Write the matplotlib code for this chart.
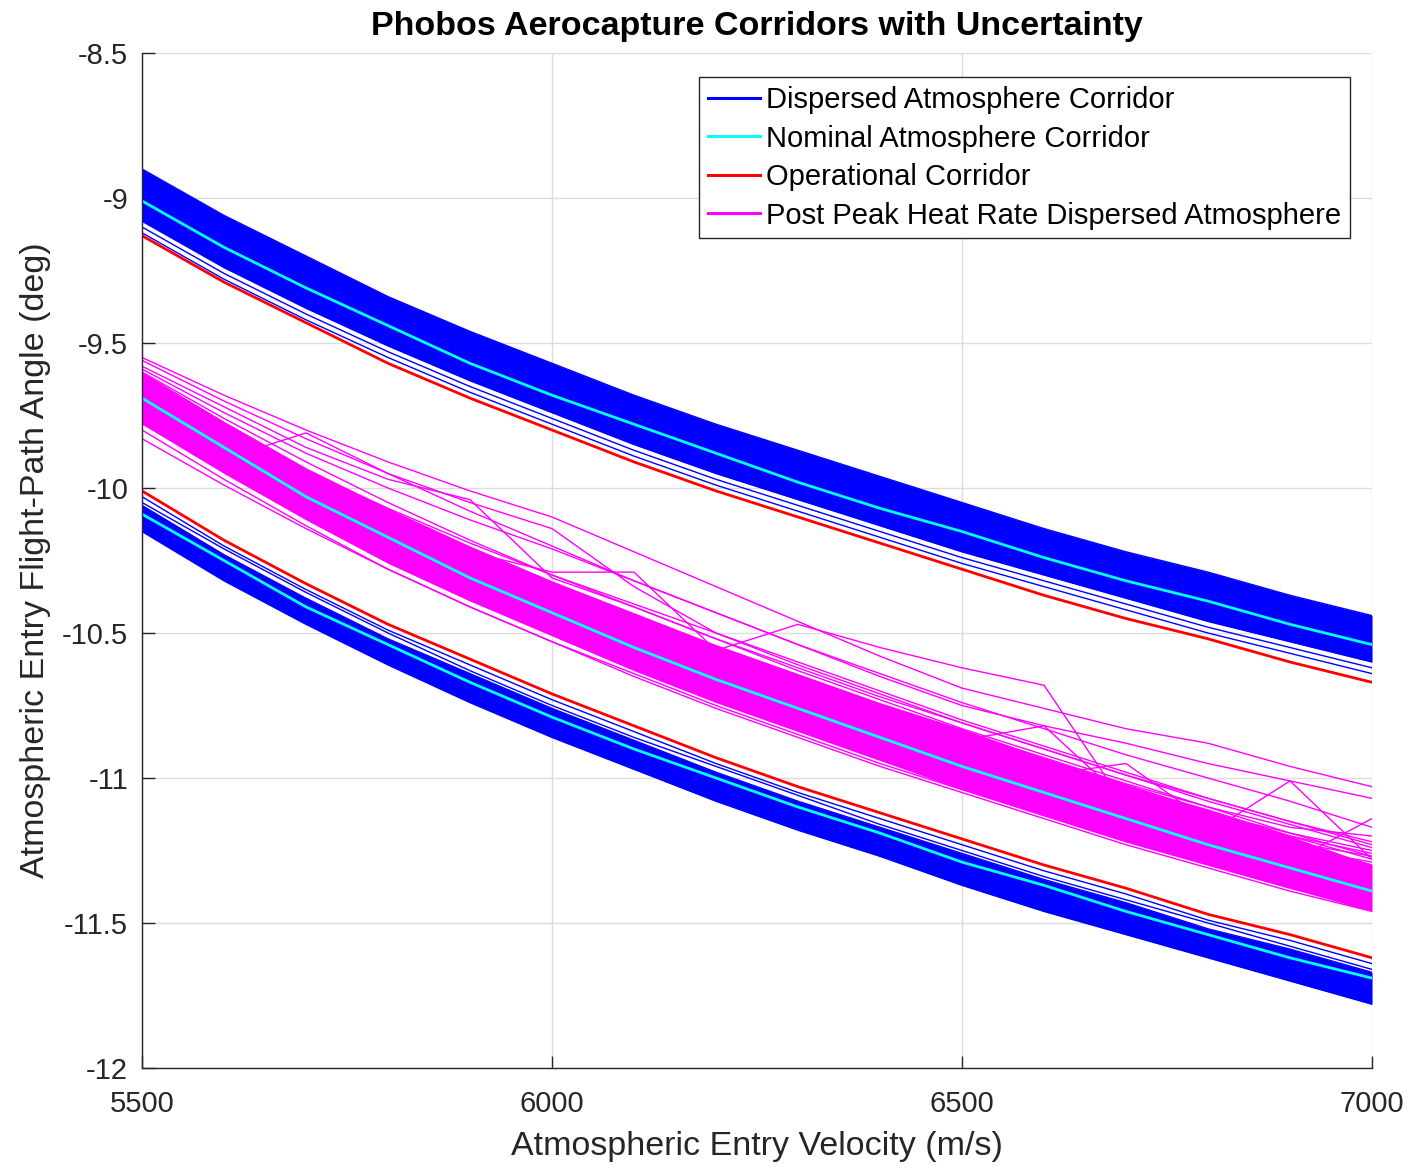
import matplotlib.pyplot as plt
from matplotlib.lines import Line2D
from matplotlib.ticker import FuncFormatter

plt.rcParams['font.family'] = ['Liberation Sans', 'DejaVu Sans']
plt.rcParams['axes.unicode_minus'] = False

# entry velocity grid (m/s)
velocity = [5500, 5600, 5700, 5800, 5900, 6000, 6100, 6200,
            6300, 6400, 6500, 6600, 6700, 6800, 6900, 7000]

# -----------------------------
# shallow (overshoot) corridor boundary
# -----------------------------
upper_disp_top = [-8.90, -9.06, -9.20, -9.34, -9.46, -9.57, -9.68, -9.78,
                  -9.87, -9.96, -10.05, -10.14, -10.22, -10.29, -10.37, -10.44]
upper_disp_bottom = [-9.08, -9.24, -9.38, -9.51, -9.63, -9.74, -9.85, -9.95,
                     -10.04, -10.13, -10.22, -10.30, -10.38, -10.46, -10.53, -10.60]
upper_disp_edge1 = [-9.10, -9.26, -9.40, -9.53, -9.65, -9.76, -9.87, -9.97,
                    -10.06, -10.15, -10.24, -10.32, -10.40, -10.48, -10.55, -10.62]
upper_disp_edge2 = [-9.12, -9.28, -9.42, -9.55, -9.67, -9.78, -9.89, -9.99,
                    -10.08, -10.17, -10.26, -10.34, -10.42, -10.50, -10.57, -10.64]
upper_nominal = [-9.01, -9.17, -9.31, -9.44, -9.57, -9.68, -9.78, -9.88,
                 -9.98, -10.07, -10.15, -10.24, -10.32, -10.39, -10.47, -10.54]
upper_operational = [-9.13, -9.29, -9.43, -9.57, -9.69, -9.80, -9.91, -10.01,
                     -10.10, -10.19, -10.28, -10.37, -10.45, -10.52, -10.60, -10.67]

# -----------------------------
# steep (undershoot) corridor boundary
# -----------------------------
lower_operational = [-10.01, -10.18, -10.33, -10.47, -10.59, -10.71, -10.82, -10.93,
                     -11.03, -11.12, -11.21, -11.30, -11.38, -11.47, -11.54, -11.62]
lower_disp_edge1 = [-10.03, -10.20, -10.35, -10.49, -10.61, -10.73, -10.84, -10.95,
                    -11.05, -11.14, -11.23, -11.32, -11.40, -11.49, -11.56, -11.64]
lower_disp_edge2 = [-10.05, -10.21, -10.36, -10.50, -10.63, -10.75, -10.86, -10.96,
                    -11.06, -11.16, -11.25, -11.34, -11.42, -11.50, -11.58, -11.66]
lower_disp_top = [-10.06, -10.23, -10.38, -10.52, -10.64, -10.76, -10.87, -10.98,
                  -11.08, -11.17, -11.26, -11.35, -11.43, -11.52, -11.59, -11.67]
lower_disp_bottom = [-10.15, -10.32, -10.47, -10.61, -10.74, -10.86, -10.97, -11.08,
                     -11.18, -11.27, -11.37, -11.46, -11.54, -11.62, -11.70, -11.78]
lower_nominal = [-10.09, -10.25, -10.41, -10.54, -10.67, -10.79, -10.90, -11.00,
                 -11.10, -11.19, -11.29, -11.37, -11.46, -11.54, -11.62, -11.69]

# -----------------------------
# post peak heat rate boundary
# -----------------------------
post_peak_top = [-9.60, -9.77, -9.93, -10.07, -10.20, -10.32, -10.43, -10.54,
                 -10.64, -10.74, -10.83, -10.93, -11.02, -11.11, -11.20, -11.30]
post_peak_bottom = [-9.78, -9.95, -10.11, -10.26, -10.39, -10.51, -10.63, -10.74,
                    -10.84, -10.94, -11.04, -11.13, -11.22, -11.30, -11.38, -11.46]
post_peak_nominal = [-9.69, -9.86, -10.03, -10.17, -10.31, -10.43, -10.55, -10.66,
                     -10.76, -10.86, -10.96, -11.05, -11.14, -11.23, -11.31, -11.39]

post_peak_runs = [
    [-9.55, -9.68, -9.80, -9.91, -10.01, -10.10, -10.22, -10.34,
     -10.46, -10.58, -10.69, -10.76, -10.83, -10.88, -10.96, -11.03],
    [-9.58, -9.72, -9.86, -9.97, -10.04, -10.31, -10.41, -10.52,
     -10.63, -10.73, -10.83, -10.92, -11.01, -11.10, -11.19, -11.27],
    [-9.62, -9.80, -9.96, -10.10, -10.22, -10.29, -10.29, -10.56,
     -10.66, -10.76, -10.86, -10.95, -11.04, -11.13, -11.22, -11.30],
    [-9.64, -9.82, -9.98, -10.12, -10.25, -10.37, -10.48, -10.56,
     -10.47, -10.55, -10.62, -10.68, -11.10, -11.18, -11.24, -11.29],
    [-9.66, -9.84, -10.00, -10.14, -10.27, -10.39, -10.50, -10.61,
     -10.70, -10.78, -10.87, -10.82, -11.08, -11.16, -11.23, -11.30],
    [-9.63, -9.81, -9.97, -10.11, -10.24, -10.36, -10.47, -10.58,
     -10.68, -10.78, -10.88, -10.98, -11.09, -11.19, -11.01, -11.28],
    [-9.70, -9.87, -10.03, -10.18, -10.31, -10.44, -10.56, -10.67,
     -10.77, -10.87, -10.96, -11.05, -11.13, -11.21, -11.29, -11.14],
    [-9.75, -9.90, -9.81, -9.95, -10.08, -10.20, -10.32, -10.43,
     -10.54, -10.64, -10.74, -10.83, -10.92, -11.00, -11.08, -11.17],
    [-9.59, -9.74, -9.88, -10.00, -10.11, -10.21, -10.32, -10.43,
     -10.54, -10.65, -10.75, -10.82, -10.88, -10.95, -11.01, -11.07],
    [-9.56, -9.70, -9.83, -9.95, -10.05, -10.14, -10.34, -10.50,
     -10.61, -10.71, -10.81, -10.90, -10.99, -11.07, -11.15, -11.22],
    [-9.80, -9.97, -10.13, -10.28, -10.41, -10.53, -10.65, -10.76,
     -10.86, -10.96, -11.05, -11.14, -11.23, -11.31, -11.39, -11.46],
    [-9.83, -9.99, -10.14, -10.28, -10.41, -10.53, -10.64, -10.75,
     -10.85, -10.95, -11.04, -11.13, -11.22, -11.30, -11.38, -11.45],
    [-9.61, -9.78, -9.94, -10.08, -10.21, -10.33, -10.44, -10.55,
     -10.65, -10.75, -10.84, -10.93, -11.02, -11.10, -11.17, -11.20],
    [-9.62, -9.79, -9.95, -10.09, -10.22, -10.34, -10.45, -10.56,
     -10.66, -10.76, -10.86, -10.95, -11.04, -11.12, -11.19, -11.25],
    [-9.65, -9.83, -9.99, -10.13, -10.26, -10.38, -10.49, -10.60,
     -10.70, -10.80, -10.90, -10.99, -10.95, -11.15, -11.22, -11.27],
    [-9.60, -9.76, -9.91, -10.05, -10.18, -10.30, -10.41, -10.52,
     -10.62, -10.72, -10.81, -10.90, -10.99, -11.08, -11.16, -11.24],
    [-9.63, -9.79, -9.94, -10.07, -10.19, -10.30, -10.40, -10.50,
     -10.60, -10.70, -10.80, -10.89, -10.98, -11.07, -11.15, -11.23],
    [-9.68, -9.85, -10.00, -10.13, -10.25, -10.36, -10.47, -10.57,
     -10.67, -10.76, -10.85, -10.94, -11.03, -11.11, -11.20, -11.28],
    [-9.72, -9.88, -10.03, -10.16, -10.28, -10.39, -10.50, -10.59,
     -10.68, -10.78, -10.87, -10.96, -11.04, -11.12, -11.20, -11.26],
    [-9.74, -9.91, -10.06, -10.20, -10.33, -10.45, -10.56, -10.66,
     -10.75, -10.84, -10.93, -11.02, -11.11, -11.19, -11.27, -11.35],
]

legend_labels = ['Dispersed Atmosphere Corridor', 'Nominal Atmosphere Corridor',
                 'Operational Corridor', 'Post Peak Heat Rate Dispersed Atmosphere']

BLUE = (0, 0, 1)
CYAN = (0, 1, 1)
RED = (1, 0, 0)
MAGENTA = (1, 0, 1)

fig = plt.figure(figsize=(14.12, 11.68), dpi=100)
ax = fig.add_axes([0.1006, 0.0856, 0.8711, 0.869])

# dispersed atmosphere bands
ax.fill_between(velocity, upper_disp_top, upper_disp_bottom, color=BLUE, lw=0)
ax.fill_between(velocity, lower_disp_top, lower_disp_bottom, color=BLUE, lw=0)
for run in [upper_disp_top, upper_disp_bottom, upper_disp_edge1, upper_disp_edge2,
            lower_disp_edge1, lower_disp_edge2, lower_disp_top, lower_disp_bottom]:
    ax.plot(velocity, run, color=BLUE, lw=1.0)

# post peak heat rate dispersions
ax.fill_between(velocity, post_peak_top, post_peak_bottom, color=MAGENTA, lw=0)
for run in post_peak_runs:
    ax.plot(velocity, run, color=MAGENTA, lw=1.0)

# nominal and operational
for run in [upper_nominal, lower_nominal, post_peak_nominal]:
    ax.plot(velocity, run, color=CYAN, lw=2.0)
for run in [upper_operational, lower_operational]:
    ax.plot(velocity, run, color=RED, lw=2.0)

ax.set_xlim(5500, 7000)
ax.set_ylim(-12, -8.5)
ax.set_xticks([5500, 6000, 6500, 7000])
ax.set_yticks([-12, -11.5, -11, -10.5, -10, -9.5, -9, -8.5])
ax.yaxis.set_major_formatter(FuncFormatter(lambda v, p: f"{v:g}"))
ax.grid(True, color='#dcdcdc', lw=1.0)
ax.set_axisbelow(True)
for side in ['top', 'right']:
    ax.spines[side].set_visible(False)
for side in ['left', 'bottom']:
    ax.spines[side].set_color('#262626')
    ax.spines[side].set_linewidth(1.0)
ax.tick_params(direction='in', length=9, width=1.0, labelsize=21,
               colors='#262626')
ax.tick_params(axis='x', pad=16)
ax.tick_params(axis='y', pad=10)

ax.set_xlabel('Atmospheric Entry Velocity (m/s)', fontsize=24.5, color='#262626', labelpad=9)
ax.set_ylabel('Atmospheric Entry Flight-Path Angle (deg)', fontsize=24.5, color='#262626',
              labelpad=8)
ax.set_title('Phobos Aerocapture Corridors with Uncertainty', fontsize=24.5,
             fontweight='bold', pad=13)

handles = [Line2D([], [], color=c, lw=2.2) for c in [BLUE, CYAN, RED, MAGENTA]]
leg = ax.legend(handles, legend_labels, loc='upper right', bbox_to_anchor=(0.982, 0.976),
                borderaxespad=0, fontsize=21, frameon=True, fancybox=False,
                framealpha=1, edgecolor='#262626', handlelength=1.8,
                handletextpad=0.2, labelspacing=0.36, borderpad=0.3)
leg.get_frame().set_linewidth(1.0)

fig.savefig('out.png', dpi=100)
